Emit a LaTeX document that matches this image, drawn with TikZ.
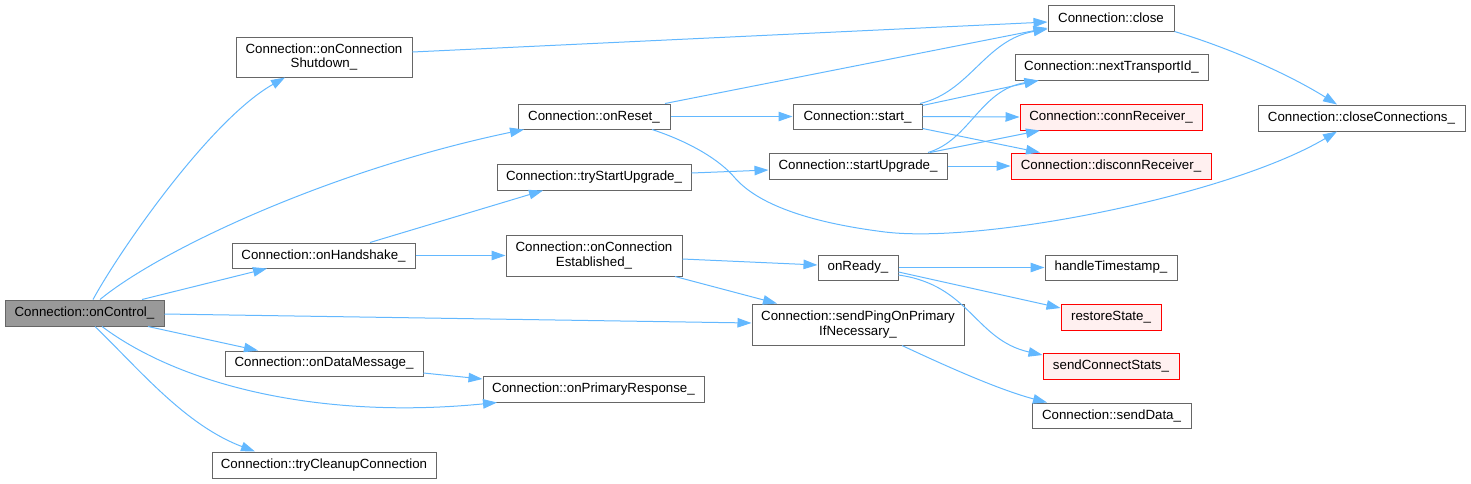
\documentclass[tikz,border=0pt]{standalone}
\usepackage{fontspec}
\setmainfont{Liberation Sans}
\usetikzlibrary{arrows.meta}
\definecolor{edgec}{HTML}{63B8FF}
\definecolor{boxc}{HTML}{666666}
\definecolor{redb}{HTML}{FF0000}
\definecolor{redf}{HTML}{FFF0F0}
\definecolor{rootf}{HTML}{999999}
\tikzset{
  fn/.style={draw=boxc, fill=white, line width=1pt, inner sep=0pt, align=center,
    font=\fontsize{13.3}{14.7}\selectfont},
  redfn/.style={fn, draw=redb, fill=redf},
  rootfn/.style={fn, fill=rootf},
  call/.style={draw=edgec, line width=1pt, -{Triangle[length=14pt,width=9.5pt]}}
}
\begin{document}
\begin{tikzpicture}[x=1pt,y=-1pt]
\useasboundingbox (0,0) rectangle (1471,483);
% nodes
\node[rootfn, minimum width=159pt, minimum height=26pt] (ctrl) at (84.5,313) {Connection::onControl\_};
\node[fn, minimum width=176pt, minimum height=40pt] (shut) at (324,57) {Connection::onConnection\\Shutdown\_};
\node[fn, minimum width=152pt, minimum height=25pt] (reset) at (594,116.5) {Connection::onReset\_};
\node[fn, minimum width=194pt, minimum height=26pt] (tsu) at (594,177) {Connection::tryStartUpgrade\_};
\node[fn, minimum width=183pt, minimum height=25pt] (hs) at (323.5,255.5) {Connection::onHandshake\_};
\node[fn, minimum width=198pt, minimum height=25pt] (dm) at (324,363.5) {Connection::onDataMessage\_};
\node[fn, minimum width=224pt, minimum height=26pt] (tc) at (324,465) {Connection::tryCleanupConnection};
\node[fn, minimum width=176pt, minimum height=41pt] (est) at (594,255.5) {Connection::onConnection\\Established\_};
\node[fn, minimum width=221pt, minimum height=26pt] (pr) at (593.5,389) {Connection::onPrimaryResponse\_};
\node[fn, minimum width=129pt, minimum height=25pt] (start) at (857.5,116.5) {Connection::start\_};
\node[fn, minimum width=178pt, minimum height=26pt] (su) at (858,166) {Connection::startUpgrade\_};
\node[fn, minimum width=80pt, minimum height=25pt] (ready) at (858,267.5) {onReady\_};
\node[fn, minimum width=212pt, minimum height=41pt] (ping) at (858,324.5) {Connection::sendPingOnPrimary\\IfNecessary\_};
\node[fn, minimum width=126pt, minimum height=26pt] (close) at (1111,18) {Connection::close};
\node[fn, minimum width=193pt, minimum height=26pt] (nti) at (1111.5,67) {Connection::nextTransportId\_};
\node[redfn, minimum width=182pt, minimum height=26pt] (cr) at (1111,117) {Connection::connReceiver\_};
\node[redfn, minimum width=200pt, minimum height=26pt] (dr) at (1111,166) {Connection::disconnReceiver\_};
\node[fn, minimum width=132pt, minimum height=25pt] (ht) at (1111,267.5) {handleTimestamp\_};
\node[redfn, minimum width=100pt, minimum height=26pt] (rs) at (1111,317) {restoreState\_};
\node[redfn, minimum width=136pt, minimum height=26pt] (scs) at (1111,366) {sendConnectStats\_};
\node[fn, minimum width=159pt, minimum height=25pt] (sd) at (1111.5,415.5) {Connection::sendData\_};
\node[fn, minimum width=207pt, minimum height=26pt] (cc) at (1361.5,118) {Connection::closeConnections\_};
% edges from onControl_
\draw[call] ([xshift=8.5pt]ctrl.north) .. controls (120,250) and (210,120) .. ([xshift=-39pt]shut.south);
\draw[call] ([xshift=15.5pt]ctrl.north) .. controls (160,250) and (330,170) .. ([xshift=-70pt]reset.south);
\draw[call] ([xshift=57.5pt]ctrl.north) -- ([xshift=-56.5pt]hs.south);
\draw[call] ([yshift=-1pt]ctrl.east) -- ([yshift=1.5pt]ping.west);
\draw[call] ([xshift=63.5pt]ctrl.south) -- ([xshift=-66pt]dm.north);
\draw[call] ([xshift=17.5pt]ctrl.south) .. controls (180,385) and (320,420) .. ([xshift=-96.5pt]pr.south);
\draw[call] ([xshift=10.5pt]ctrl.south) .. controls (140,370) and (185,425) .. ([xshift=-69pt]tc.north);
% other edges
\draw[call] ([yshift=5pt]shut.east) -- ([yshift=-4pt]close.west);
\draw[call] ([xshift=71pt]reset.north) -- ([yshift=-10pt]close.west);
\draw[call] (reset.east) -- (start.west);
\draw[call] ([xshift=58pt]reset.south) .. controls (690,142) and (720,160) .. (735,178)
  .. controls (757,203) and (805,222) .. (885,232)
  .. controls (985,244) and (1230,195) .. ([xshift=-24.5pt]cc.south);
\draw[call] ([yshift=4pt]tsu.east) -- ([yshift=-4pt]su.west);
\draw[call] ([xshift=62.5pt]start.north) .. controls (970,92) and (985,40) .. ([yshift=-11pt]close.west);
\draw[call] ([yshift=11pt]start.east) -- ([xshift=-73pt]nti.south);
\draw[call] (start.east) -- (cr.west);
\draw[call] ([yshift=-12pt]start.east) -- ([xshift=-71pt]dr.north);
\draw[call] ([xshift=70pt]su.north) .. controls (970,140) and (980,90) .. ([xshift=-73pt]nti.south);
\draw[call] ([xshift=72pt]su.north) -- ([xshift=-71pt]cr.south);
\draw[call] (su.east) -- (dr.west);
\draw[call] (close.south east) .. controls (1230,48) and (1290,75) .. ([xshift=-24.5pt]cc.north);
\draw[call] ([xshift=46.5pt]hs.north) -- ([xshift=-51pt]tsu.south);
\draw[call] (hs.east) -- (est.west);
\draw[call] ([yshift=-3.5pt]est.east) -- ([yshift=2.5pt]ready.west);
\draw[call] ([xshift=81pt]est.south) -- ([xshift=-81pt]ping.north);
\draw[call] ([yshift=-9.5pt]dm.east) -- ([yshift=10pt]pr.west);
\draw[call] (ready.east) -- (ht.west);
\draw[call] ([yshift=-4.5pt]ready.east) -- ([yshift=9pt]rs.west);
\draw[call] ([yshift=-7.5pt]ready.east) .. controls (970,285) and (975,340) .. ([yshift=11pt]scs.west);
\draw[call] ([xshift=44pt]ping.south) .. controls (950,368) and (1000,390) .. ([xshift=-64.5pt]sd.north);
\end{tikzpicture}
\end{document}
